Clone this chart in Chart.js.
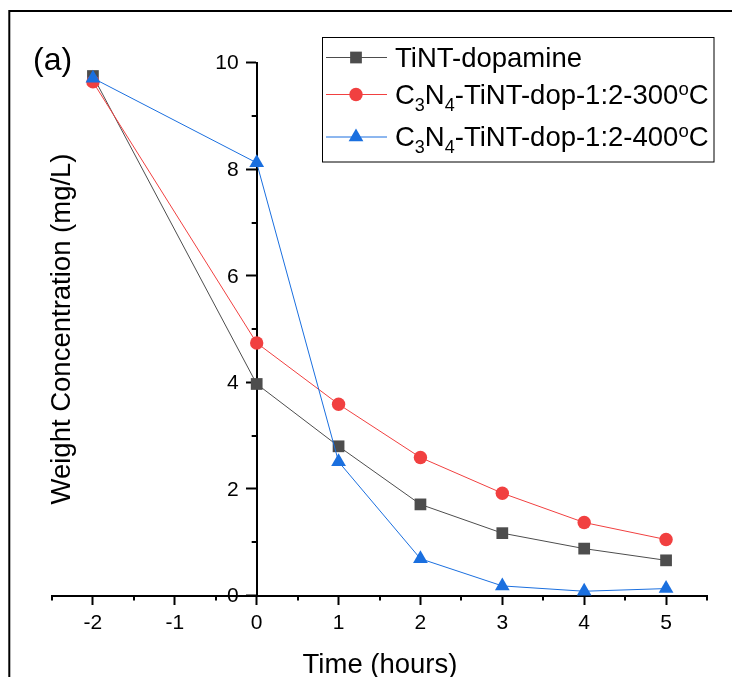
<!DOCTYPE html>
<html>
<head>
<meta charset="utf-8">
<script src="https://cdn.jsdelivr.net/npm/chart.js@4.4.1/dist/chart.umd.min.js"></script>
<style>
  html, body { margin: 0; padding: 0; background: #ffffff; overflow: hidden; }
  canvas { display: block; }
</style>
</head>
<body>
<canvas id="chart" width="732" height="677"></canvas>
<script>
// Sampling times (hours) and measured concentrations (mg/L)
const timeHours = [-2, 0, 1, 2, 3, 4, 5];
const tintDopamine = [9.75, 3.97, 2.80, 1.71, 1.17, 0.88, 0.66];
const c3n4Dop300 = [9.64, 4.74, 3.59, 2.59, 1.92, 1.37, 1.05];
const c3n4Dop400 = [9.71, 8.12, 2.51, 0.69, 0.18, 0.08, 0.13];

// Tick labels shown on each axis
const xTickLabels = ['-2', '-1', '0', '1', '2', '3', '4', '5'];
const yTickLabels = ['0', '2', '4', '6', '8', '10'];

// Legend names: "_x" marks a subscript character, "^x" a superscript one
const seriesNames = [
  'TiNT-dopamine',
  'C_3N_4-TiNT-dop-1:2-300^oC',
  'C_3N_4-TiNT-dop-1:2-400^oC'
];
const seriesColors = ['#4d4d4d', '#f14040', '#1a6fdf'];
const seriesMarkers = ['rect', 'circle', 'triangle'];

const FONT = '"Liberation Sans", Arial, Helvetica, sans-serif';
Chart.defaults.font.family = FONT;
Chart.defaults.color = '#000000';

function toPoints(ys) {
  return timeHours.map((t, i) => ({ x: t, y: ys[i] }));
}

function plainName(name) {
  return name.replace(/[_^]/g, '');
}

// Splits a legend name into runs of normal, subscript and superscript text
function parseName(name) {
  const parts = [];
  let buf = '';
  for (let i = 0; i < name.length; i++) {
    const ch = name[i];
    if ((ch === '_' || ch === '^') && i + 1 < name.length) {
      if (buf) { parts.push({ text: buf, kind: 'normal' }); buf = ''; }
      parts.push({ text: name[i + 1], kind: ch === '_' ? 'sub' : 'sup' });
      i++;
    } else {
      buf += ch;
    }
  }
  if (buf) parts.push({ text: buf, kind: 'normal' });
  return parts;
}

function drawMarker(ctx, style, x, y, color) {
  ctx.save();
  ctx.fillStyle = color;
  ctx.beginPath();
  if (style === 'rect') {
    const s = 8.3 * Math.SQRT1_2;
    ctx.rect(x - s, y - s, 2 * s, 2 * s);
  } else if (style === 'circle') {
    ctx.arc(x, y, 6.7, 0, Math.PI * 2);
  } else {
    const r = 8.5;
    let a = 0;
    ctx.moveTo(x + Math.sin(a) * r, y - Math.cos(a) * r);
    a += 2 * Math.PI / 3;
    ctx.lineTo(x + Math.sin(a) * r, y - Math.cos(a) * r);
    a += 2 * Math.PI / 3;
    ctx.lineTo(x + Math.sin(a) * r, y - Math.cos(a) * r);
    ctx.closePath();
  }
  ctx.fill();
  ctx.restore();
}

// Frame, minor ticks, y tick labels, axis titles, panel tag and legend
const decorations = {
  id: 'decorations',
  afterDraw(chart) {
    const ctx = chart.ctx;
    const xs = chart.scales.x;
    const ys = chart.scales.y;
    const x0 = xs.getPixelForValue(0);
    const y0 = ys.getPixelForValue(0);

    ctx.save();
    // figure frame
    ctx.strokeStyle = '#000000';
    ctx.lineWidth = 2;
    ctx.beginPath();
    ctx.moveTo(9.3, 700);
    ctx.lineTo(9.3, 11);
    ctx.lineTo(740, 11);
    ctx.stroke();

    // minor ticks
    ctx.lineWidth = 2;
    ctx.beginPath();
    xs.ticks.forEach(t => {
      if (!Number.isInteger(t.value)) {
        const px = Math.round(xs.getPixelForValue(t.value));
        ctx.moveTo(px, y0);
        ctx.lineTo(px, y0 + 5);
      }
    });
    ys.ticks.forEach(t => {
      if (Math.round(t.value) % 2 !== 0) {
        const py = Math.round(ys.getPixelForValue(t.value));
        ctx.moveTo(x0 - 5, py);
        ctx.lineTo(x0, py);
      }
    });
    ctx.stroke();

    // y tick labels, to the left of the axis crossing at x = 0
    ctx.fillStyle = '#000000';
    ctx.font = '21px ' + FONT;
    ctx.textAlign = 'right';
    ctx.textBaseline = 'middle';
    ys.ticks.forEach(t => {
      const label = String(t.value);
      if (yTickLabels.includes(label)) {
        ctx.fillText(label, x0 - 18, ys.getPixelForValue(t.value) + 1);
      }
    });

    // axis titles
    ctx.font = '27.5px ' + FONT;
    ctx.textAlign = 'center';
    ctx.textBaseline = 'alphabetic';
    ctx.fillText('Time (hours)', 380, 673);

    ctx.save();
    ctx.translate(70, 329);
    ctx.rotate(-Math.PI / 2);
    ctx.fillText('Weight Concentration (mg/L)', 0, 0);
    ctx.restore();

    // panel tag
    ctx.font = '32px ' + FONT;
    ctx.textAlign = 'left';
    ctx.fillText('(a)', 33, 70);

    // legend
    const box = { left: 322.5, top: 37.5, width: 391.5, height: 124.5 };
    ctx.fillStyle = '#ffffff';
    ctx.fillRect(box.left, box.top, box.width, box.height);
    ctx.strokeStyle = '#000000';
    ctx.lineWidth = 1;
    ctx.strokeRect(box.left, box.top, box.width, box.height);

    const rowY = [57.5, 94.5, 137];
    seriesNames.forEach((name, i) => {
      const y = rowY[i];
      ctx.strokeStyle = seriesColors[i];
      ctx.lineWidth = 1;
      ctx.beginPath();
      ctx.moveTo(326, y);
      ctx.lineTo(387, y);
      ctx.stroke();
      drawMarker(ctx, seriesMarkers[i], 356, y, seriesColors[i]);

      let x = 395;
      const base = y + 9;
      ctx.fillStyle = '#000000';
      ctx.textAlign = 'left';
      ctx.textBaseline = 'alphabetic';
      parseName(name).forEach(p => {
        let dy = 0;
        if (p.kind === 'normal') {
          ctx.font = '27.5px ' + FONT;
        } else if (p.kind === 'sub') {
          ctx.font = '18px ' + FONT;
          dy = 7;
        } else {
          ctx.font = '18.5px ' + FONT;
          dy = -9;
        }
        ctx.fillText(p.text, x, base + dy);
        x += ctx.measureText(p.text).width;
      });
    });
    ctx.restore();
  }
};

const series = [tintDopamine, c3n4Dop300, c3n4Dop400];

new Chart(document.getElementById('chart'), {
  type: 'line',
  data: {
    datasets: series.map((values, i) => ({
      label: plainName(seriesNames[i]),
      data: toPoints(values),
      borderColor: seriesColors[i],
      backgroundColor: seriesColors[i],
      borderWidth: 1,
      pointStyle: seriesMarkers[i],
      pointRadius: [8.3, 6.7, 8.5][i],
      pointBorderWidth: 0,
      pointBackgroundColor: seriesColors[i],
      pointBorderColor: seriesColors[i],
      tension: 0,
      fill: false,
      clip: false,
      order: 2 - i
    }))
  },
  options: {
    responsive: false,
    devicePixelRatio: 1,
    animation: false,
    layout: { padding: { left: 52, right: 25, top: 62.7, bottom: 81.5 } },
    plugins: {
      legend: { display: false },
      title: { display: false },
      tooltip: { enabled: false }
    },
    scales: {
      x: {
        type: 'linear',
        position: { y: 0 },
        min: -2.5,
        max: 5.5,
        grid: {
          display: true,
          drawOnChartArea: false,
          drawTicks: true,
          tickLength: 8,
          tickWidth: 2,
          tickColor: ctx => (Number.isInteger(ctx.tick.value) ? '#000000' : 'rgba(0,0,0,0)')
        },
        border: { display: true, color: '#000000', width: 2 },
        ticks: {
          stepSize: 0.5,
          autoSkip: false,
          maxRotation: 0,
          padding: 7,
          font: { size: 21 },
          color: '#000000',
          callback: v => (xTickLabels.includes(String(v)) ? String(v) : '')
        }
      },
      y: {
        type: 'linear',
        position: { x: 0 },
        min: 0,
        max: 10,
        grid: {
          display: true,
          drawOnChartArea: false,
          drawTicks: true,
          tickLength: 10,
          tickWidth: 2,
          tickColor: ctx => (Math.round(ctx.tick.value) % 2 === 0 ? '#000000' : 'rgba(0,0,0,0)')
        },
        border: { display: true, color: '#000000', width: 2 },
        ticks: {
          display: false,
          stepSize: 1,
          autoSkip: false
        }
      }
    }
  },
  plugins: [decorations]
});
</script>
</body>
</html>
